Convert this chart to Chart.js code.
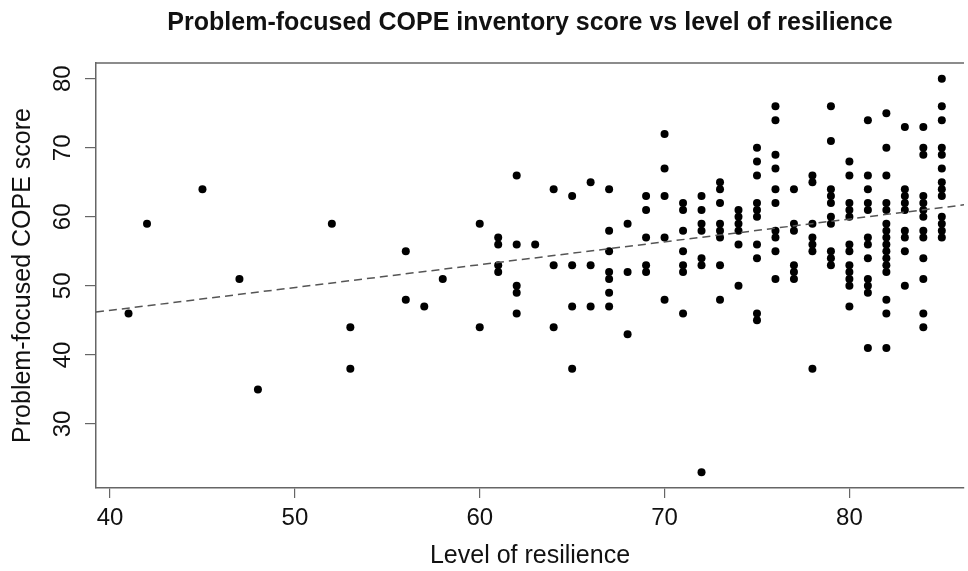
<!DOCTYPE html>
<html>
<head>
<meta charset="utf-8">
<title>Problem-focused COPE inventory score vs level of resilience</title>
<script src="https://cdn.jsdelivr.net/npm/chart.js@4.4.1/dist/chart.umd.min.js"></script>
<style>
  html, body { margin: 0; padding: 0; background: #fff; overflow: hidden; }
  canvas { display: block; }
</style>
</head>
<body>
<canvas id="copeChart" width="968" height="571"></canvas>
<script>
// resilience levels, and the COPE scores seen at each level
const levels = [41, 42, 45, 47, 48, 52, 53, 56, 57, 58, 60, 61, 62, 63, 64, 65, 66, 67,
  68, 69, 70, 71, 72, 73, 74, 75, 76, 77, 78, 79, 80, 81, 82, 83, 84, 85];

const scoresAtLevel = [
  [46], [59], [64], [51], [35], [59], [44, 38], [55, 48], [47], [51],
  [59, 44],
  [57, 56, 53, 52],
  [66, 56, 50, 49, 46],
  [56],
  [64, 53, 44],
  [63, 53, 47, 38],
  [65, 53, 47],
  [64, 58, 55, 52, 51, 49, 47],
  [59, 52, 43],
  [63, 61, 57, 53, 52],
  [72, 67, 63, 57, 48],
  [62, 61, 58, 55, 53, 52, 46],
  [63, 61, 59, 58, 54, 53, 23],
  [65, 64, 62, 59, 58, 57, 53, 48],
  [61, 60, 59, 58, 56, 50],
  [70, 68, 66, 62, 61, 60, 56, 54, 46, 45],
  [76, 74, 69, 67, 64, 62, 58, 57, 55, 51],
  [64, 59, 58, 53, 52, 51],
  [66, 65, 59, 57, 56, 55, 38],
  [76, 71, 64, 63, 62, 60, 59, 55, 54, 53],
  [68, 66, 62, 61, 60, 56, 55, 53, 52, 51, 50, 47],
  [74, 66, 64, 62, 61, 57, 56, 54, 51, 50, 49, 41],
  [75, 70, 66, 62, 61, 59, 58, 57, 56, 55, 54, 53, 52, 48, 46, 41],
  [73, 64, 63, 62, 61, 58, 57, 55, 50],
  [73, 70, 69, 63, 62, 61, 60, 58, 57, 54, 51, 46, 44],
  [80, 76, 74, 70, 69, 67, 65, 64, 63, 60, 59, 58, 57]
];

const xTicks = [40, 50, 60, 70, 80];
const yTicks = [30, 40, 50, 60, 70, 80];

// dashed fit line, ends
const fitX = [39.24, 86.4];
const fitY = [46.2, 61.8];

const points = [];
levels.forEach((lvl, i) => {
  scoresAtLevel[i].forEach(s => points.push({ x: lvl, y: s }));
});
const fitLine = fitX.map((x, i) => ({ x: x, y: fitY[i] }));

const FONT = "'Liberation Sans', Arial, Helvetica, sans-serif";
Chart.defaults.font.family = FONT;
Chart.defaults.color = '#111';

// R draws a box round the plot; the right side is cut off in the picture
const topBorder = {
  id: 'topBorder',
  afterDraw(chart) {
    const { ctx, chartArea } = chart;
    ctx.save();
    ctx.strokeStyle = '#666';
    ctx.lineWidth = 1.5;
    ctx.beginPath();
    ctx.moveTo(chartArea.left, chartArea.top);
    ctx.lineTo(chartArea.right, chartArea.top);
    ctx.stroke();
    ctx.restore();
  }
};

new Chart(document.getElementById('copeChart'), {
  type: 'scatter',
  data: {
    datasets: [
      {
        label: 'fit',
        data: fitLine,
        showLine: true,
        borderColor: '#555',
        borderWidth: 1.5,
        borderDash: [8, 5],
        pointRadius: 0,
        order: 0
      },
      {
        label: 'COPE score',
        data: points,
        backgroundColor: '#000',
        borderWidth: 0,
        pointRadius: 4,
        order: 1
      }
    ]
  },
  options: {
    responsive: false,
    devicePixelRatio: 1,
    animation: false,
    layout: { padding: 0 },
    plugins: {
      legend: { display: false },
      tooltip: { enabled: false },
      title: {
        display: true,
        fullSize: false,
        text: 'Problem-focused COPE inventory score vs level of resilience',
        color: '#111',
        font: { size: 25, weight: 'bold' },
        padding: { top: 8, bottom: 25 }
      }
    },
    scales: {
      x: {
        type: 'linear',
        min: 39.24,
        max: 86.2,
        afterBuildTicks: s => { s.ticks = xTicks.map(v => ({ value: v })); },
        afterFit: s => { s.height = 83; s.paddingLeft = 0; s.paddingRight = 0; },
        grid: { drawOnChartArea: false, drawTicks: true, tickLength: 10, color: '#666', lineWidth: 1.2 },
        border: { display: true, color: '#666', width: 1.5 },
        ticks: { font: { size: 24 }, padding: 6, minRotation: 0, maxRotation: 0 },
        title: { display: true, text: 'Level of resilience', font: { size: 25 }, padding: { top: 0, bottom: 0 } }
      },
      y: {
        type: 'linear',
        min: 20.72,
        max: 82.28,
        afterBuildTicks: s => { s.ticks = yTicks.map(v => ({ value: v })); },
        afterFit: s => { s.width = 96; s.paddingTop = 0; s.paddingBottom = 0; },
        grid: { drawOnChartArea: false, drawTicks: true, tickLength: 11, color: '#666', lineWidth: 1.2 },
        border: { display: true, color: '#666', width: 1.5 },
        ticks: { font: { size: 24 }, padding: 8, minRotation: 90, maxRotation: 90, crossAlign: 'center' },
        title: { display: true, text: 'Problem-focused COPE score', font: { size: 25 }, padding: { top: 8, bottom: 0 } }
      }
    }
  },
  plugins: [topBorder]
});
</script>
</body>
</html>
